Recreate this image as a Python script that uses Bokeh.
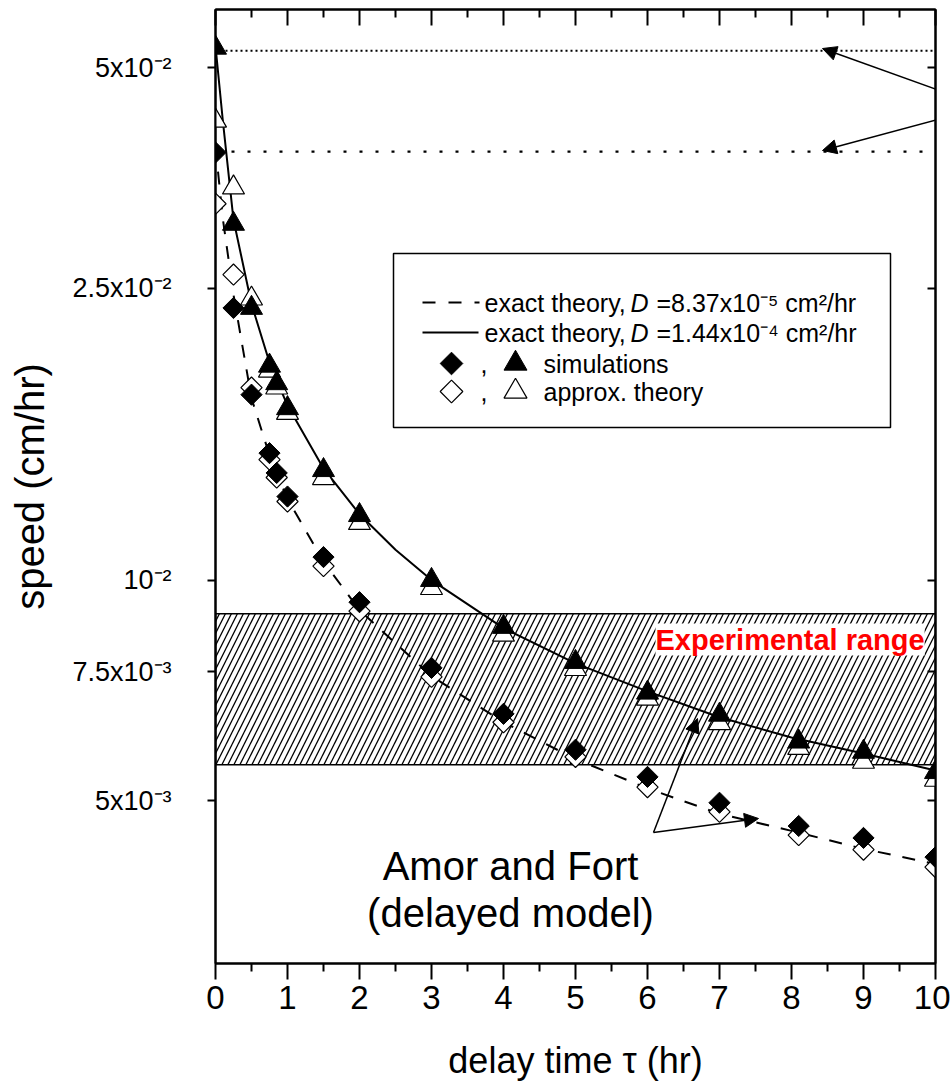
import math
from bokeh.plotting import figure
from bokeh.models import (Range1d, FixedTicker, LogAxis, LinearAxis, Label,
                          BoxAnnotation, Arrow, NormalHead, Span)
from bokeh.embed import file_html
from bokeh.resources import INLINE

# ---------------- data ----------------
tau = [0, 0.25, 0.5, 0.75, 0.85, 1, 1.5, 2, 3, 4, 5, 6, 7, 8.1, 9, 10]
sim_low = [0.0383, 0.0235, 0.0179, 0.0149, 0.0140, 0.0130, 0.01075, 0.00933,
           0.00759, 0.00657, 0.00587, 0.00539, 0.00497, 0.00462, 0.00445, 0.00419]
approx_low = [0.0326, 0.0261, 0.0183, 0.0146, 0.0138, 0.0128, 0.01045, 0.00907,
              0.00738, 0.0064, 0.00574, 0.00522, 0.00483, 0.00449, 0.00429, 0.00406]
sim_high = [0.0532, 0.0306, 0.0235, 0.0196, 0.01855, 0.01715, 0.01412, 0.01226,
            0.0100, 0.00863, 0.00773, 0.00702, 0.00655, 0.00602, 0.00583, 0.00547]
approx_high = [0.0423, 0.0343, 0.0242, 0.0193, 0.0183, 0.0169, 0.01377, 0.01196,
               0.00975, 0.00842, 0.00756, 0.00689, 0.00638, 0.0059, 0.00565, 0.00534]
theory_tau = [0, 0.1, 0.25, 0.5, 0.75, 1, 1.5, 2, 2.5, 3, 4, 5, 6, 7, 8, 9, 10]
theory_low = [0.0390, 0.0312, 0.0245, 0.0177, 0.0148, 0.0129, 0.0106, 0.0091, 0.0082,
              0.0074, 0.0064, 0.0057, 0.0052, 0.0048, 0.00455, 0.0043, 0.0041]
theory_high = [0.0535, 0.0425, 0.0310, 0.0238, 0.0198, 0.0173, 0.0142, 0.0123, 0.0110,
               0.0100, 0.0086, 0.0077, 0.00705, 0.0065, 0.0061, 0.0058, 0.0055]
exp_range = [0.0056, 0.009]
no_delay_levels = [0.0527, 0.0384]
x_ticks = [0, 1, 2, 3, 4, 5, 6, 7, 8, 9, 10]
y_ticks = [0.005, 0.0075, 0.01, 0.025, 0.05]
y_tick_labels = ["5x10\u207b\u00b3", "7.5x10\u207b\u00b3", "10\u207b\u00b2",
                 "2.5x10\u207b\u00b2", "5x10\u207b\u00b2"]

# ---------------- layout helpers (page pixels -> data, for annotations) ----------
X_MIN, X_MAX = 0, 10
Y_MIN, Y_MAX = 0.003, 0.06
FRAME_L, FRAME_R, FRAME_T, FRAME_B = 215, 935, 9, 963


def dx(px):
    return X_MIN + (px - FRAME_L) * (X_MAX - X_MIN) / (FRAME_R - FRAME_L)


def dy(py):
    dec = math.log10(Y_MAX / Y_MIN)
    return 10 ** (math.log10(Y_MAX) - (py - FRAME_T) * dec / (FRAME_B - FRAME_T))


FONT = "Liberation Sans"

W, H = 950, 1089
p = figure(width=W, height=H, y_axis_type="log",
           x_range=Range1d(X_MIN, X_MAX), y_range=Range1d(Y_MIN, Y_MAX),
           output_backend="svg", toolbar_location=None,
           min_border_left=FRAME_L, min_border_right=W - FRAME_R,
           min_border_top=FRAME_T, min_border_bottom=H - FRAME_B)
p.xgrid.visible = False
p.ygrid.visible = False
p.outline_line_color = "black"
p.outline_line_width = 2
p.background_fill_color = "white"
p.border_fill_color = "white"

# bottom axis
xa = p.xaxis[0]
xa.ticker = FixedTicker(ticks=x_ticks, minor_ticks=[t + 0.5 for t in x_ticks[:-1]])
xa.major_tick_out = 16
xa.major_tick_in = 0
xa.minor_tick_out = 8
xa.minor_tick_in = 0
xa.axis_line_width = 2
xa.major_tick_line_width = 2
xa.minor_tick_line_width = 2
xa.major_label_text_font = FONT
xa.major_label_text_font_size = "33px"
xa.major_label_text_color = "black"
xa.major_label_standoff = 6
xa.axis_label = "delay time \u03c4 (hr)"
xa.axis_label_text_font = FONT
xa.axis_label_text_font_size = "36px"
xa.axis_label_text_font_style = "normal"
xa.axis_label_text_color = "black"
xa.axis_label_standoff = 28

# left axis
ya = p.yaxis[0]
ya.ticker = FixedTicker(ticks=y_ticks, minor_ticks=[])
ya.major_label_overrides = dict(zip(y_ticks, y_tick_labels))
ya.major_tick_out = 8
ya.major_tick_in = 0
ya.minor_tick_out = 0
ya.minor_tick_in = 0
ya.axis_line_width = 2
ya.major_tick_line_width = 2
ya.major_label_text_font = FONT
ya.major_label_text_font_size = "27px"
ya.major_label_text_color = "black"
ya.major_label_standoff = 36
ya.axis_label = "speed (cm/hr)"
ya.axis_label_text_font = FONT
ya.axis_label_text_font_size = "40px"
ya.axis_label_text_font_style = "normal"
ya.axis_label_text_color = "black"
ya.axis_label_standoff = 17

# mirrored axes with inward ticks and no labels
ra = LogAxis(ticker=FixedTicker(ticks=y_ticks, minor_ticks=[]),
             major_tick_in=8, major_tick_out=0, minor_tick_in=0, minor_tick_out=0,
             major_label_text_font_size="1px", major_label_text_color=None,
             major_label_standoff=0, axis_line_width=2, major_tick_line_width=2)
p.add_layout(ra, "right")
ta = LinearAxis(ticker=FixedTicker(ticks=x_ticks, minor_ticks=[t + 0.5 for t in x_ticks[:-1]]),
                major_tick_in=16, major_tick_out=0, minor_tick_in=8, minor_tick_out=0,
                major_label_text_font_size="1px", major_label_text_color=None,
                major_label_standoff=0, axis_line_width=2, major_tick_line_width=2,
                minor_tick_line_width=2)
p.add_layout(ta, "above")

# experimental range (hatched band)
band = BoxAnnotation(bottom=exp_range[0], top=exp_range[1], fill_color=None, fill_alpha=0,
                     hatch_pattern="/", hatch_scale=12, hatch_weight=1.3, hatch_color="black",
                     hatch_alpha=1.0, line_color="black", line_alpha=1.0, line_width=1.5,
                     level="underlay")
p.add_layout(band)

# no-delay reference lines
p.add_layout(Span(location=no_delay_levels[0], dimension="width", line_color="black",
                  line_width=2, line_dash="2 3"))
p.add_layout(Span(location=no_delay_levels[1], dimension="width", line_color="black",
                  line_width=2.4, line_dash="3 13"))

# legend box (under the glyphs)
p.add_layout(BoxAnnotation(left=dx(393), right=dx(890), top=dy(253), bottom=dy(427),
                           fill_color="white", fill_alpha=1, line_color="black",
                           line_alpha=1, line_width=1.5, level="underlay"))

# theory curves
p.line(theory_tau, theory_low, line_color="black", line_width=2, line_dash="13 12")
p.line(theory_tau, theory_high, line_color="black", line_width=2)

# markers: approx (open) below, simulations (filled) on top
p.scatter(tau, approx_low, marker="square", angle=math.pi / 4, size=15,
          fill_color="white", line_color="black", line_width=1.2)
p.scatter(tau, approx_high, marker="triangle", size=22,
          fill_color="white", line_color="black", line_width=1.2)
p.scatter(tau, sim_low, marker="square", angle=math.pi / 4, size=15,
          fill_color="black", line_color="black")
p.scatter(tau, sim_high, marker="triangle", size=22,
          fill_color="black", line_color="black")

# Experimental range label
p.add_layout(Label(x=dx(655), y=dy(639), text="Experimental range", text_font=FONT,
                   text_font_size="29px", text_font_style="bold", text_color="#ff0000",
                   text_baseline="middle", background_fill_color="white"))

# legend content
LG = 25
ly = [302, 332, 363, 391]
p.line([dx(422), dx(479)], [dy(ly[0]), dy(ly[0])], line_color="black", line_width=2,
       line_dash="13 13")
p.line([dx(422), dx(478)], [dy(ly[1]), dy(ly[1])], line_color="black", line_width=2)
for row, val in enumerate(["=8.37x10\u207b\u2075 cm\u00b2/hr",
                           "=1.44x10\u207b\u2074 cm\u00b2/hr"]):
    yy = dy(ly[row])
    p.add_layout(Label(x=dx(484), y=yy, text="exact theory,", text_font=FONT,
                       text_color="black", text_font_size=f"{LG}px", text_baseline="middle"))
    p.add_layout(Label(x=dx(630), y=yy, text="D", text_font=FONT, text_font_style="italic",
                       text_color="black", text_font_size=f"{LG}px", text_baseline="middle"))
    p.add_layout(Label(x=dx(656), y=yy, text=val, text_font=FONT, text_color="black",
                       text_font_size=f"{LG}px", text_baseline="middle"))
p.scatter([dx(451)], [dy(ly[2])], marker="square", angle=math.pi / 4, size=16,
          fill_color="black", line_color="black")
p.scatter([dx(515)], [dy(ly[2])], marker="triangle", size=23,
          fill_color="black", line_color="black")
p.scatter([dx(451)], [dy(ly[3])], marker="square", angle=math.pi / 4, size=16,
          fill_color="white", line_color="black", line_width=1.2)
p.scatter([dx(515)], [dy(ly[3])], marker="triangle", size=23,
          fill_color="white", line_color="black", line_width=1.2)
for row, txt in [(2, "simulations"), (3, "approx. theory")]:
    yy = dy(ly[row])
    p.add_layout(Label(x=dx(480), y=yy, text=",", text_font=FONT, text_color="black",
                       text_font_size=f"{LG}px", text_baseline="middle"))
    p.add_layout(Label(x=dx(543), y=yy, text=txt, text_font=FONT, text_color="black",
                       text_font_size=f"{LG}px", text_baseline="middle"))

# Amor and Fort annotation
p.add_layout(Label(x=dx(510), y=dy(865), text="Amor and Fort", text_font=FONT,
                   text_color="black", text_font_size="40px", text_align="center",
                   text_baseline="alphabetic"))
p.add_layout(Label(x=dx(510), y=dy(912), text="(delayed model)", text_font=FONT,
                   text_color="black", text_font_size="40px", text_align="center",
                   text_baseline="alphabetic"))
for tx, ty in [(697, 718), (758, 818)]:
    p.add_layout(Arrow(end=NormalHead(size=14, fill_color="black", line_color="black"),
                       x_start=dx(653), y_start=dy(832), x_end=dx(tx), y_end=dy(ty),
                       line_color="black", line_width=1.5))

# arrows pointing at the no-delay levels (their labels lie outside the picture)
for sy, ty in [(103, 48), (109, 150)]:
    p.add_layout(Arrow(end=NormalHead(size=14, fill_color="black", line_color="black"),
                       x_start=dx(975), y_start=dy(sy), x_end=dx(822), y_end=dy(ty),
                       line_color="black", line_width=1.5))

open("out.html", "w").write(file_html(p, INLINE))
